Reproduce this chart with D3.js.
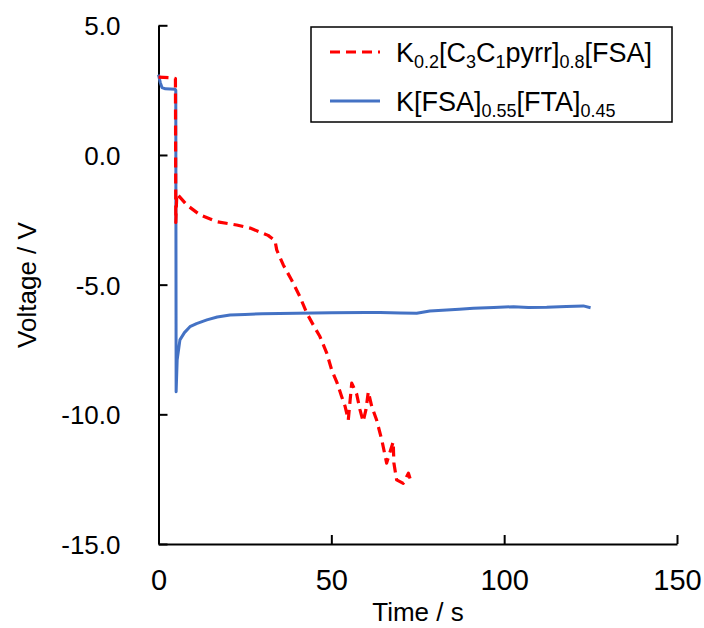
<!DOCTYPE html>
<html><head><meta charset="utf-8">
<script src="https://cdn.jsdelivr.net/npm/d3@7"></script>
<style>
html,body{margin:0;padding:0;background:#fff;}
text{font-family:"Liberation Sans",Arial,sans-serif;fill:#000;}
</style></head>
<body><svg id="chart" width="704" height="628"></svg>
<script>
// Data
const redTime = [0, 4.2, 4.9, 5.0, 5.3, 5.6, 8.2, 12, 16.8, 22.6, 26.5, 29, 31.7, 33.7, 34.2, 36.1, 38.5, 40.9, 42.9, 44.8, 46.7, 48.7, 50.1, 51.7, 53, 54, 54.9, 55.9, 57.3, 58.3, 59.2, 60, 60.7, 61.7, 63.1, 64.6, 66, 66.9, 67.9, 68.1, 68.9, 70.8, 72.3, 73.2];
const redVolt = [3.0, 2.97, 2.95, -2.6, -1.5, -1.54, -1.93, -2.31, -2.57, -2.70, -2.82, -2.95, -3.1, -3.3, -3.66, -4.24, -4.82, -5.46, -6.1, -6.56, -7.0, -7.65, -8.29, -8.8, -9.32, -9.7, -10.22, -8.8, -9.2, -9.83, -10.28, -9.83, -9.13, -9.7, -10.22, -10.99, -11.88, -11.49, -11.06, -11.88, -12.53, -12.66, -12.27, -12.66];
const blueTime = [0, 0.5, 1.0, 2, 4.8, 5.0, 5.1, 5.4, 6.2, 7.5, 9.1, 11, 14, 17, 20.7, 25, 30, 40, 50, 60, 64.1, 70, 74.7, 78.5, 83.4, 87, 91.1, 97, 102.7, 107, 112.3, 118, 122.9, 125];
const blueVolt = [3.1, 2.8, 2.6, 2.55, 2.53, 2.5, -9.13, -7.9, -7.13, -6.85, -6.62, -6.5, -6.36, -6.25, -6.17, -6.15, -6.12, -6.1, -6.08, -6.07, -6.07, -6.09, -6.1, -6.02, -5.98, -5.95, -5.91, -5.88, -5.85, -5.88, -5.87, -5.84, -5.82, -5.89];
const xTicks = [0, 50, 100, 150];
const yTicks = [5, 0, -5, -10, -15];

const svg = d3.select("#chart");
const pLeft = 158.5, pRight = 677, pTop = 25.3, pBottom = 544;
const x = d3.scaleLinear().domain([0, 150]).range([pLeft, pRight]);
const y = d3.scaleLinear().domain([-15, 5]).range([pBottom, pTop]);
const yFmt = v => d3.format(".1f")(v).replace("\u2212", "-");

// axes
const xAxis = svg.append("g").attr("transform", `translate(0,${pBottom})`)
  .call(d3.axisBottom(x).tickValues(xTicks).tickSizeInner(-9).tickSizeOuter(0).tickPadding(26).tickFormat(d3.format("d")));
const yAxis = svg.append("g").attr("transform", `translate(${pLeft},0)`)
  .call(d3.axisLeft(y).tickValues(yTicks).tickSizeInner(-9).tickSizeOuter(0).tickPadding(38).tickFormat(yFmt));
[xAxis, yAxis].forEach(a => {
  a.select(".domain").attr("stroke", "#000").attr("stroke-width", 2);
  a.selectAll(".tick line").attr("stroke", "#000").attr("stroke-width", 2);
  a.selectAll(".tick text").attr("font-family", "Liberation Sans, Arial, sans-serif").attr("fill", "#000");
});
xAxis.selectAll(".tick text").attr("font-size", 29).attr("dy", "0.7em");
yAxis.selectAll(".tick text").attr("font-size", 26).attr("dy", "0.36em");

// axis titles
svg.append("text").attr("x", 418).attr("y", 621).attr("text-anchor", "middle")
  .attr("font-size", 26).text("Time / s");
svg.append("text").attr("transform", `translate(36,285) rotate(-90)`).attr("text-anchor", "middle")
  .attr("font-size", 26).text("Voltage / V");

const line = d3.line().x(d => x(d[0])).y(d => y(d[1]));
const blueData = blueTime.map((t, i) => [t, blueVolt[i]]);
const redData = redTime.map((t, i) => [t, redVolt[i]]);

svg.append("path").datum(blueData).attr("d", line).attr("fill", "none")
  .attr("stroke", "#4472C4").attr("stroke-width", 3).attr("stroke-linejoin", "round");
svg.append("path").datum(redData).attr("d", line).attr("fill", "none")
  .attr("stroke", "#FF0000").attr("stroke-width", 3.2).attr("stroke-dasharray", "10,6").attr("stroke-linejoin", "round");

// legend
const lg = svg.append("g");
lg.append("rect").attr("x", 311).attr("y", 27).attr("width", 361).attr("height", 95)
  .attr("fill", "#fff").attr("stroke", "#000").attr("stroke-width", 1.5);
lg.append("line").attr("x1", 330).attr("x2", 380).attr("y1", 52).attr("y2", 52)
  .attr("stroke", "#FF0000").attr("stroke-width", 3.2).attr("stroke-dasharray", "10,6");
lg.append("line").attr("x1", 330).attr("x2", 380).attr("y1", 101).attr("y2", 101)
  .attr("stroke", "#4472C4").attr("stroke-width", 3);

function rich(g, xPos, yPos, parts) {
  const t = g.append("text").attr("x", xPos).attr("y", yPos).attr("font-size", 27);
  parts.forEach(p => {
    const s = t.append("tspan").text(p[0]);
    if (p[1]) s.attr("font-size", 18).attr("dy", 6);
    else s.attr("dy", p[2] ? -6 : 0);
  });
}
rich(lg, 396, 62, [["K"], ["0.2", true], ["[C", false, true], ["3", true], ["C", false, true], ["1", true], ["pyrr]", false, true], ["0.8", true], ["[FSA]", false, true]]);
rich(lg, 396, 111, [["K[FSA]"], ["0.55", true], ["[FTA]", false, true], ["0.45", true]]);
</script>
</body></html>
